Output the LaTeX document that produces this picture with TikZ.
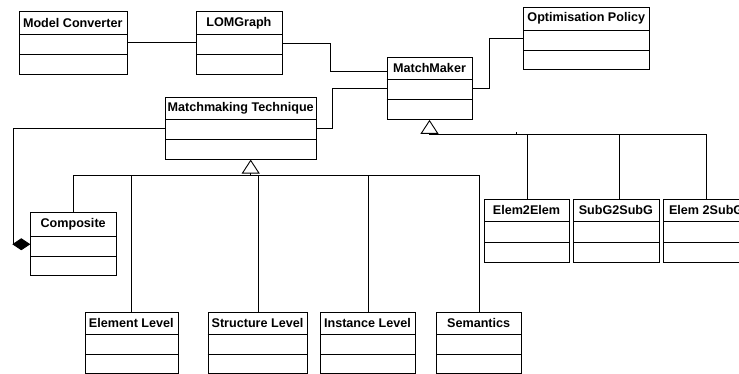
\documentclass[tikz,border=0pt]{standalone}
\usepackage{fontspec}
\setmainfont{Liberation Sans}
\usetikzlibrary{arrows.meta}
\tikzset{
  ln/.style={line width=0.9pt, black},
  clsbox/.style={ln, draw, fill=white, inner sep=0pt, anchor=north west},
  clstitle/.style={font=\bfseries\fontsize{12.6}{14}\selectfont, inner sep=0pt},
  gen/.style={ln, -{Triangle[open, length=14pt, width=18pt, line width=0.9pt]}},
  comp/.style={ln, -{Diamond[fill=black, length=18pt, width=12pt]}}
}
\newcommand\umlcls[8]{%
  \node[clsbox, minimum width={(#4-#2)*1pt}, minimum height={(#5-#3)*1pt}] (#1) at (#2,#3) {};
  \draw[ln] (#2,#6) -- (#4,#6);
  \draw[ln] (#2,#7) -- (#4,#7);
  \node[clstitle] (#1-t) at ({(#2+#4)/2},{(#3+#6)/2}) {#8};
}
\begin{document}
\begin{tikzpicture}[x=1pt, y=-1pt]
\useasboundingbox (0,0) rectangle (739,374);
\clip (0,0) rectangle (739,374);
% classes
\umlcls{mc}{19}{11}{126.5}{74}{34}{54}{Model Converter}
\umlcls{lom}{196}{11.5}{281.7}{74}{34}{54}{LOMGraph}
\umlcls{op}{523.3}{6.7}{649.3}{69.3}{30}{50}{Optimisation Policy}
\umlcls{mm}{386.7}{56.7}{472.3}{119}{79.3}{99}{MatchMaker}
\umlcls{mt}{165.3}{96.7}{316}{158.7}{119.3}{139.7}{Matchmaking Technique}
\umlcls{cp}{30.3}{212.3}{116}{275.3}{236}{256}{Composite}
\umlcls{el}{85}{311.7}{177.7}{372.7}{334}{354}{Element Level}
\umlcls{sl}{207.7}{311.7}{307.3}{372.7}{334}{354}{Structure Level}
\umlcls{il}{320}{311.7}{415}{372.7}{334}{354}{Instance Level}
\umlcls{sem}{436.3}{311.7}{521}{372.7}{334}{354}{Semantics}
\umlcls{e2e}{484}{199}{569}{262}{221.7}{242}{Elem2Elem}
\umlcls{s2s}{573}{199}{658.7}{262}{221.7}{242}{SubG2SubG}
\umlcls{e2s}{663.3}{199}{749}{262}{221.7}{242}{Elem 2SubG}
% helper coordinates
\coordinate (k1) at (330,71);
\coordinate (k2) at (332,0);
\coordinate (k3) at (489,0);
\coordinate (k4) at (13.3,0);
\coordinate (g1) at (250.7,175.7);
\coordinate (g2) at (429.5,134.5);
\coordinate (tk) at (516,134.5);
% associations
\draw[ln] (mc.east) -- (mc.east -| lom.west);
\draw[ln] (lom.east) -| (k1) -- (k1 -| mm.west);
\draw[ln] (mt.east) -| (k2 |- mm.west) -- (mm.west);
\draw[ln] (mm.east) -- (k3 |- mm.east) |- (op.west);
% composition
\draw[comp] (mt.west) -| (k4 |- cp.west) -- (cp.west);
% generalisation of Matchmaking Technique
\draw[gen] (g1) -- (g1 |- mt.south);
\draw[ln] (cp.north) |- (g1 -| sem.north) -- (sem.north);
\draw[ln] (el.north) -- (el.north |- g1);
\draw[ln] (sl.north) -- (sl.north |- g1);
\draw[ln] (il.north) -- (il.north |- g1);
% generalisation of MatchMaker
\draw[gen] (g2) -- (g2 |- mm.south);
\draw[ln] (g2) -| (e2s.north);
\draw[ln] (e2e.north) -- (e2e.north |- g2);
\draw[ln] ([xshift=3.5pt]s2s.north) -- ([xshift=3.5pt]s2s.north |- g2);
\draw[ln] (tk) -- ++(0,-2);
\end{tikzpicture}
\end{document}
